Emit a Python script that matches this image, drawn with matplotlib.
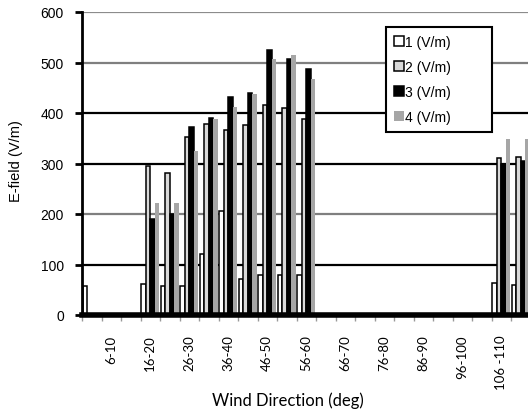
import matplotlib

matplotlib.use("Agg")

import matplotlib.pyplot as plt
import numpy as np

# wind direction bins (deg), 5-degree steps
categories = [
    "1-5", "6-10", "11-15", "16-20", "21-25", "26-30", "31-35", "36-40",
    "41-45", "46-50", "51-55", "56-60", "61-65", "66-70", "71-75", "76-80",
    "81-85", "86-90", "91-95", "96-100", "101-105", "106 -110", "111-115",
]

# E-field per sensor (V/m)
field_1 = [57, 0, 0, 61, 57, 57, 120, 206, 71, 80, 80, 80, 0, 0, 0, 0, 0, 0, 0, 0, 0, 63, 59]
field_2 = [0, 0, 0, 295, 281, 352, 378, 366, 376, 416, 410, 388, 0, 0, 0, 0, 0, 0, 0, 0, 0, 310, 313]
field_3 = [0, 0, 0, 190, 200, 372, 390, 432, 440, 525, 507, 487, 0, 0, 0, 0, 0, 0, 0, 0, 0, 300, 305]
field_4 = [0, 0, 0, 222, 222, 325, 388, 412, 438, 507, 515, 467, 0, 0, 0, 0, 0, 0, 0, 0, 0, 348, 349]

series = [
    ("1 (V/m)", field_1, "white", "black"),
    ("2 (V/m)", field_2, "#d9d9d9", "black"),
    ("3 (V/m)", field_3, "black", "black"),
    ("4 (V/m)", field_4, "#a6a6a6", "none"),
]

arial = ["Liberation Sans", "DejaVu Sans"]
calibri = ["Lato", "DejaVu Sans"]

fig = plt.figure(figsize=(5.28, 4.14), dpi=100)
ax = fig.add_axes([82 / 528, 98 / 414, 448.5 / 528, 303 / 414])

x = np.arange(len(categories))
width = 0.23
gap = 1.0 - 4 * width
for j, (label, values, face, edge) in enumerate(series):
    offset = -0.5 + gap / 2 + width * (j + 0.5)
    ax.bar(x + offset, values, width=width, color=face, edgecolor=edge,
           linewidth=1.1, label=label, zorder=2)

ax.set_xlim(-0.5, len(categories) - 0.5)
ax.set_ylim(0, 600)
ax.set_yticks(range(0, 601, 100))
ax.set_yticklabels([str(v) for v in range(0, 601, 100)], family=arial, fontsize=10)
ax.tick_params(axis="y", direction="out", length=5, width=2, color="black", pad=8)

shown = list(range(1, len(categories), 2))
ax.set_xticks(shown)
ax.set_xticklabels([categories[i] for i in shown], rotation=90, family=calibri, fontsize=9.5)
ax.tick_params(axis="x", which="major", length=0, pad=14)
ax.set_xticks(np.arange(-0.5, len(categories), 1.0), minor=True)
ax.tick_params(axis="x", which="minor", direction="out", length=4, width=1, color="#999999")

ax.set_axisbelow(True)
ax.yaxis.grid(True, linewidth=1.6)
grid_colors = ["black", "black", "#7f7f7f", "black", "black", "#7f7f7f", "#8c8c8c"]
for line, c in zip(ax.get_ygridlines(), grid_colors):
    line.set_color(c)

for side in ["top", "right"]:
    ax.spines[side].set_visible(False)
ax.spines["left"].set_linewidth(2)
ax.spines["bottom"].set_linewidth(4)
ax.spines["bottom"].set_zorder(3)

ax.set_ylabel("E-field (V/m)", family=arial, fontsize=10.5)
ax.yaxis.set_label_coords(-0.131, 0.51)
ax.set_xlabel("Wind Direction (deg)", family=calibri, fontsize=12)
ax.xaxis.set_label_coords(0.459, -0.252)

leg = ax.legend(
    loc="upper left",
    bbox_to_anchor=((386 - 82) / 448.5, (316 - 28) / 303, 106 / 448.5, 0),
    mode="expand",
    prop={"family": arial, "size": 10},
    frameon=True,
    fancybox=False,
    handlelength=0.75,
    handleheight=0.75,
    handletextpad=0.1,
    labelspacing=0.8,
    borderpad=0.55,
    borderaxespad=0,
)
leg.get_frame().set_edgecolor("black")
leg.get_frame().set_linewidth(1.5)
leg.get_frame().set_alpha(1)

fig.savefig("out.png", dpi=100)
